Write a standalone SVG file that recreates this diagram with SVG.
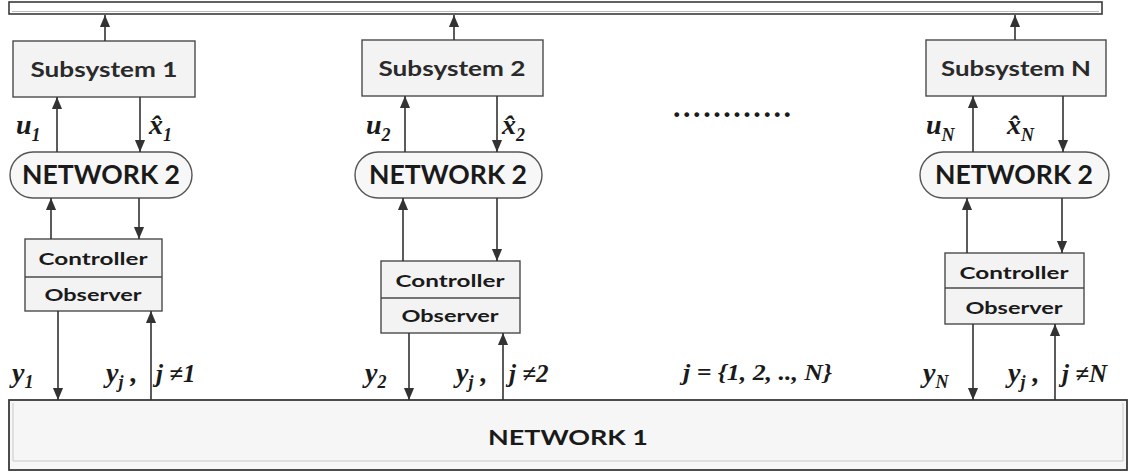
<svg xmlns="http://www.w3.org/2000/svg" width="1130" height="473" viewBox="0 0 1130 473">
  <style>
    .bar { fill: #ffffff; stroke: #3a3a3a; stroke-width: 1.6; }
    .box { fill: #f3f3f3; stroke: #4a4a4a; stroke-width: 1.4; }
    .pill { fill: #f7f7f7; stroke: #555555; stroke-width: 1.4; }
    .div { stroke: #4a4a4a; stroke-width: 1.4; }
    .lbl { font-family: Lato, "Liberation Sans", sans-serif; fill: #1a1a1a; text-anchor: middle; }
    .sub { font-size: 20px; font-weight: bold; fill: #2a2a2a; }
    .net { font-size: 26px; font-weight: bold; }
    .co { font-size: 17px; font-weight: bold; }
    .math { font-family: "Liberation Serif", serif; font-style: italic; font-weight: bold; fill: #1a1a1a; font-size: 28px; }
    .ms { font-size: 18px; }
    .conn line { stroke: #333333; stroke-width: 1.6; marker-end: url(#arr); }
  </style>
  <defs>
    <marker id="arr" markerUnits="userSpaceOnUse" markerWidth="12" markerHeight="13" viewBox="0 0 13 12" refX="13" refY="6" orient="auto">
      <path d="M0,0.5 L13,6 L0,11.5 z" fill="#333333"/>
    </marker>
  </defs>

  <!-- top shared bus -->
  <g id="top-bus">
    <rect class="bar" x="9" y="2" width="1093" height="12"/>
    <line x1="12" y1="11.5" x2="1099" y2="11.5" stroke="#bdbdbd" stroke-width="1"/>
  </g>

  <!-- NETWORK 1 -->
  <g id="network1">
    <rect x="9" y="400" width="1118" height="70" fill="#f6f6f6" stroke="#3a3a3a" stroke-width="1.8"/>
    <line x1="13" y1="403" x2="13" y2="461" stroke="#c8c8c8" stroke-width="1"/>
    <line x1="13" y1="461" x2="1123" y2="461" stroke="#c8c8c8" stroke-width="1"/>
    <line x1="1123" y1="403" x2="1123" y2="461" stroke="#c8c8c8" stroke-width="1"/>
    <text class="lbl co" x="568" y="445" style="font-size:20px" textLength="160" lengthAdjust="spacingAndGlyphs">NETWORK 1</text>
  </g>

  <!-- column 1 -->
  <g id="subsystem1">
    <rect class="box" x="13" y="41" width="182" height="56"/>
    <text class="lbl sub" x="104" y="77" textLength="147" lengthAdjust="spacingAndGlyphs">Subsystem 1</text>
  </g>
  <g id="network2-1">
    <rect class="pill" x="10" y="152" width="182" height="46" rx="23"/>
    <text class="lbl net" x="101" y="184" textLength="158" lengthAdjust="spacingAndGlyphs">NETWORK 2</text>
  </g>
  <g id="ctrl-obs-1">
    <rect class="box" x="25" y="239" width="137" height="72"/>
    <line class="div" x1="25" y1="277" x2="162" y2="277"/>
    <text class="lbl co" x="93" y="265" textLength="109" lengthAdjust="spacingAndGlyphs">Controller</text>
    <text class="lbl co" x="93" y="301" textLength="97" lengthAdjust="spacingAndGlyphs">Observer</text>
  </g>

  <!-- column 2 -->
  <g id="subsystem2">
    <rect class="box" x="362" y="40" width="181" height="56"/>
    <text class="lbl sub" x="452" y="76" textLength="147" lengthAdjust="spacingAndGlyphs">Subsystem 2</text>
  </g>
  <g id="network2-2">
    <rect class="pill" x="355" y="152" width="187" height="46" rx="23"/>
    <text class="lbl net" x="448" y="184" textLength="158" lengthAdjust="spacingAndGlyphs">NETWORK 2</text>
  </g>
  <g id="ctrl-obs-2">
    <rect class="box" x="381" y="261" width="139" height="72"/>
    <line class="div" x1="381" y1="298" x2="520" y2="298"/>
    <text class="lbl co" x="450" y="287" textLength="109" lengthAdjust="spacingAndGlyphs">Controller</text>
    <text class="lbl co" x="450" y="322" textLength="97" lengthAdjust="spacingAndGlyphs">Observer</text>
  </g>

  <!-- column N -->
  <g id="subsystemN">
    <rect class="box" x="926" y="40" width="180" height="56"/>
    <text class="lbl sub" x="1016" y="76" textLength="150" lengthAdjust="spacingAndGlyphs">Subsystem N</text>
  </g>
  <g id="network2-N">
    <rect class="pill" x="920" y="152" width="189" height="46" rx="23"/>
    <text class="lbl net" x="1014" y="184" textLength="158" lengthAdjust="spacingAndGlyphs">NETWORK 2</text>
  </g>
  <g id="ctrl-obs-N">
    <rect class="box" x="945" y="253" width="139" height="71"/>
    <line class="div" x1="945" y1="288" x2="1084" y2="288"/>
    <text class="lbl co" x="1014" y="279" textLength="109" lengthAdjust="spacingAndGlyphs">Controller</text>
    <text class="lbl co" x="1014" y="314" textLength="97" lengthAdjust="spacingAndGlyphs">Observer</text>
  </g>

  <!-- ellipsis between columns -->
  <text x="673" y="117" font-family="Liberation Serif, serif" font-weight="bold" font-size="30" fill="#1a1a1a" textLength="118" lengthAdjust="spacing">............</text>

  <!-- connectors -->
  <g class="conn" id="connectors">
    <line x1="105" y1="41" x2="105" y2="15"/>
    <line x1="57" y1="152" x2="57" y2="97"/>
    <line x1="140" y1="97" x2="140" y2="152"/>
    <line x1="51" y1="239" x2="51" y2="198"/>
    <line x1="139" y1="198" x2="139" y2="239"/>
    <line x1="58" y1="311" x2="58" y2="400"/>
    <line x1="151" y1="400" x2="151" y2="311"/>

    <line x1="454" y1="40" x2="454" y2="15"/>
    <line x1="405" y1="152" x2="405" y2="96"/>
    <line x1="497" y1="96" x2="497" y2="152"/>
    <line x1="403" y1="261" x2="403" y2="198"/>
    <line x1="497" y1="198" x2="497" y2="261"/>
    <line x1="409" y1="333" x2="409" y2="400"/>
    <line x1="503" y1="400" x2="503" y2="333"/>

    <line x1="1015" y1="40" x2="1015" y2="15"/>
    <line x1="973" y1="152" x2="973" y2="96"/>
    <line x1="1063" y1="96" x2="1063" y2="152"/>
    <line x1="967" y1="253" x2="967" y2="198"/>
    <line x1="1062" y1="198" x2="1062" y2="253"/>
    <line x1="973" y1="324" x2="973" y2="400"/>
    <line x1="1055" y1="400" x2="1055" y2="324"/>
  </g>

  <!-- signal labels -->
  <g id="labels">
    <text class="math" x="16" y="134">u<tspan class="ms" dy="7">1</tspan></text>
    <text class="math" x="149" y="134">x̂<tspan class="ms" dy="7">1</tspan></text>

    <text class="math" x="366" y="134">u<tspan class="ms" dy="7">2</tspan></text>
    <text class="math" x="502" y="134">x̂<tspan class="ms" dy="7">2</tspan></text>

    <text class="math" x="926" y="134">u<tspan class="ms" dy="7">N</tspan></text>
    <text class="math" x="1007" y="134">x̂<tspan class="ms" dy="7">N</tspan></text>

    <text class="math" x="12" y="382">y<tspan class="ms" dy="6">1</tspan></text>
    <text class="math" x="106" y="382">y<tspan class="ms" dy="6">j</tspan><tspan dy="-6"> ,</tspan></text>
    <text class="math" x="156" y="382" style="font-size:25px">j ≠1</text>

    <text class="math" x="365" y="382">y<tspan class="ms" dy="6">2</tspan></text>
    <text class="math" x="456" y="382">y<tspan class="ms" dy="6">j</tspan><tspan dy="-6"> ,</tspan></text>
    <text class="math" x="509" y="382" style="font-size:25px">j ≠2</text>

    <text class="math" x="923" y="382">y<tspan class="ms" dy="6">N</tspan></text>
    <text class="math" x="1008" y="382">y<tspan class="ms" dy="6">j</tspan><tspan dy="-6"> ,</tspan></text>
    <text class="math" x="1062" y="382" style="font-size:25px">j ≠N</text>

    <text class="math" x="683" y="380" style="font-size:23px" textLength="149" lengthAdjust="spacingAndGlyphs">j = {1, 2, .., N}</text>
  </g>
</svg>
